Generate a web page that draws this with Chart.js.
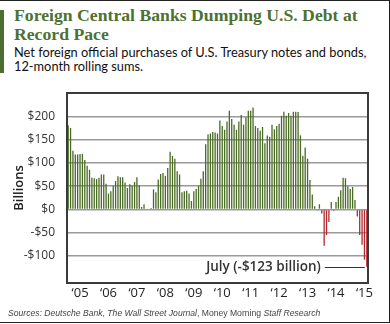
<!DOCTYPE html>
<html>
<head>
<meta charset="utf-8">
<script src="https://cdn.jsdelivr.net/npm/chart.js@4.4.1/dist/chart.umd.min.js"></script>
<style>
  body { margin: 0; background: #fff; }
  #wrap { position: relative; width: 390px; height: 324px; overflow: hidden; background: #fff; }
  .frame { position: absolute; left: -1px; top: 0; width: 391px; height: 323px; box-sizing: border-box; border: 1px solid #222; }
  .accent { position: absolute; left: 0; top: 10px; width: 4px; height: 63px; background: #4d6e31; }
  .title { position: absolute; left: 14px; top: 6px; font: bold 17.7px "Liberation Serif", serif; line-height: 18.7px; color: #4d7132; white-space: nowrap; }
  .sub { position: absolute; left: 14px; top: 45px; font: 12.8px Lato, sans-serif; line-height: 14px; color: #111; white-space: nowrap; }
  .src { position: absolute; left: 8px; top: 308px; font: italic 8.6px "Liberation Sans", sans-serif; line-height: 10px; color: #444; white-space: nowrap; }
  .src span { font-style: normal; }
  canvas { position: absolute; left: 0; top: 0; }
</style>
</head>
<body>
<div id="wrap">
  <div class="frame"></div>
  <div class="accent"></div>
  <div class="title">Foreign Central Banks Dumping U.S. Debt at<br>Record Pace</div>
  <div class="sub">Net foreign official purchases of U.S. Treasury notes and bonds,<br>12-month rolling sums.</div>
  <canvas id="graph" width="390" height="324"></canvas>
  <div class="src">Sources: Deutsche Bank, The Wall Street Journal<span>, Money Morning </span>Staff Research</div>
</div>
<script>
// datos
const years = ['2005','2006','2007','2008','2009','2010','2011','2012','2013','2014','2015'];
const yearTicks = ['\u201805','\u201806','\u201807','\u201808','\u201809','\u201810','\u201811','\u201812','\u201813','\u201814','\u201815'];
const months = ['Jan','Feb','Mar','Apr','May','Jun','Jul','Aug','Sep','Oct','Nov','Dec'];
const yTicks = [-100, -50, 0, 50, 100, 150, 200];

// billones, suma de 12 meses, ene 2005 - jul 2015
const purchases = [
    181, 175, 126, 118, 118, 119, 119, 106, 94, 85, 68, 67,
    65, 68, 75, 75, 55, 34, 39, 51, 61, 71, 69, 69,
    58, 46, 54, 51, 59, 69, 52, 5, 11, 0, -2, 3,
    43, 37, 64, 76, 78, 72, 89, 124, 115, 109, 82, 75,
    37, 39, 40, 34, 18, 39, 44, 51, 66, 82, 140, 161,
    163, 166, 165, 163, 191, 179, 171, 189, 212, 194, 182, 171,
    189, 203, 182, 198, 212, 212, 219, 179, 175, 169, 177, 142,
    159, 156, 182, 172, 179, 184, 201, 210, 201, 207, 201, 210,
    210, 209, 159, 115, 133, 109, 63, 32, 7, -1, 11, -9,
    -78, -55, -27, 16, -3, 16, 27, 41, 68, 67, 50, 44,
    48, 20, -15, -55, -76, -108, -123
];

const labels = [];
years.forEach(y => {
    months.forEach(m => {
        if (labels.length < purchases.length) labels.push(m + ' ' + y);
    });
});

const green = '#496b23';
const red = '#b02a2e';

// marco del area de grafico
const marco = {
    id: 'marco',
    afterDraw: (chart) => {
        const {ctx, chartArea: a} = chart;
        ctx.save();
        ctx.strokeStyle = '#3a3a3a';
        ctx.lineWidth = 2;
        ctx.strokeRect(a.left, a.top, a.right - a.left, a.bottom - a.top);
        ctx.restore();
    }
};

// nota del ultimo mes
const nota = {
    id: 'nota',
    afterDatasetsDraw: (chart) => {
        const {ctx} = chart;
        const last = purchases.length - 1;
        const x = chart.scales.x.getPixelForValue(last);
        const y = Math.round(chart.scales.y.getPixelForValue(purchases[last])) + 0.5;
        const texto = months[last % 12] === 'Jul' ? 'July (-$' + Math.abs(purchases[last]) + ' billion)' : '';
        ctx.save();
        ctx.strokeStyle = '#333';
        ctx.lineWidth = 1;
        ctx.beginPath();
        ctx.moveTo(x - 42, y);
        ctx.lineTo(x - 2, y);
        ctx.stroke();
        ctx.fillStyle = '#333';
        ctx.font = '600 13.5px "Open Sans"';
        ctx.textAlign = 'right';
        ctx.textBaseline = 'middle';
        ctx.fillText(texto, x - 46, y);
        ctx.restore();
    }
};

Chart.defaults.font.family = '"Open Sans", sans-serif';
Chart.defaults.color = '#333';

const graph = document.getElementById('graph');
new Chart(graph, {
    type: 'bar',
    data: {
        labels: labels,
        datasets: [{
            data: purchases,
            backgroundColor: ctx => (ctx.raw < 0 ? red : green),
            barPercentage: 1,
            categoryPercentage: 0.55,
            inflateAmount: 0,
            borderWidth: 0
        }]
    },
    options: {
        responsive: false,
        animation: false,
        devicePixelRatio: 1,
        layout: { padding: { left: 0, top: 93, right: 22, bottom: 0 } },
        plugins: { legend: { display: false }, tooltip: { enabled: false } },
        scales: {
            x: {
                grid: { display: false, drawTicks: false },
                border: { display: false },
                ticks: {
                    autoSkip: false,
                    maxRotation: 0,
                    padding: 2,
                    color: '#222',
                    font: { size: 13, weight: '500' },
                    callback: (v, i) => (i % 12 === 5 ? yearTicks[Math.floor(i / 12)] : '')
                },
                afterFit: s => { s.height = 41; }
            },
            y: {
                min: -158,
                max: 250,
                afterBuildTicks: s => { s.ticks = yTicks.map(v => ({ value: v })); },
                grid: { color: '#9a9a9a', lineWidth: 1.5, drawTicks: false },
                border: { display: false },
                ticks: {
                    padding: 12,
                    color: '#333',
                    font: { size: 12, weight: '500' },
                    callback: v => (v < 0 ? '-$' : '$') + Math.abs(v)
                },
                title: {
                    display: true,
                    text: 'Billions',
                    color: '#222',
                    font: { size: 13, weight: '600' },
                    padding: { top: 11, bottom: 0 }
                },
                afterFit: s => { s.width = 67; }
            }
        }
    },
    plugins: [marco, nota]
});
</script>
</body>
</html>
